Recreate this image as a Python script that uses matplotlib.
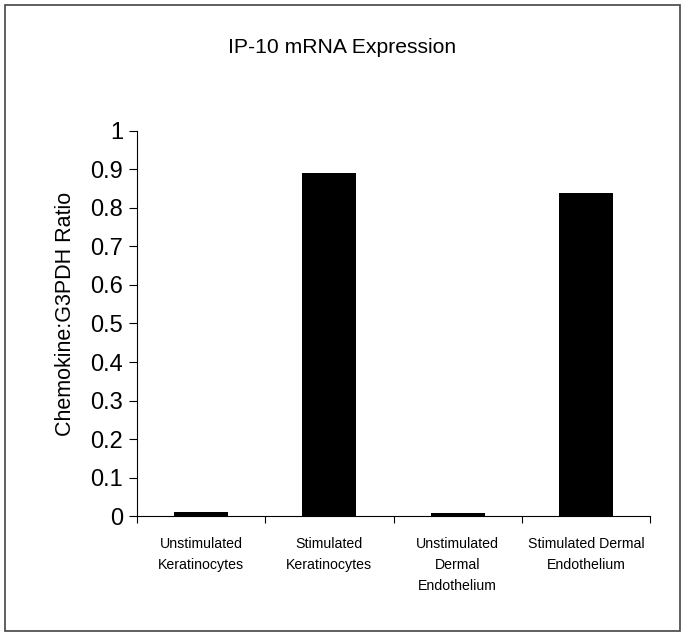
import matplotlib
matplotlib.use("Agg")
import matplotlib.pyplot as plt
from matplotlib.patches import Rectangle

plt.rcParams['font.family'] = ['Liberation Sans', 'DejaVu Sans']

categories = ["Unstimulated\nKeratinocytes", "Stimulated\nKeratinocytes",
              "Unstimulated\nDermal\nEndothelium", "Stimulated Dermal\nEndothelium"]
ratios = [0.010, 0.890, 0.008, 0.840]
y_ticks = [0, 0.1, 0.2, 0.3, 0.4, 0.5, 0.6, 0.7, 0.8, 0.9, 1]
y_tick_labels = ["0", "0.1", "0.2", "0.3", "0.4", "0.5", "0.6", "0.7", "0.8", "0.9", "1"]

fig = plt.figure(figsize=(6.85, 6.38), dpi=100)
ax = fig.add_axes([0.2, 0.1912, 0.749, 0.6035])

x = list(range(len(categories)))
ax.bar(x, ratios, width=0.42, color="black")

ax.set_xlim(-0.5, len(categories) - 0.5)
ax.set_ylim(0, 1)
ax.set_yticks(y_ticks)
ax.set_yticklabels(y_tick_labels, fontsize=17)
ax.tick_params(axis='y', direction='out', length=6, width=0.8, pad=4)

# category labels centred under bars, ticks between categories
ax.set_xticks([i - 0.5 for i in range(len(categories) + 1)])
ax.set_xticklabels([])
ax.tick_params(axis='x', direction='out', length=5, width=0.8)
for i, lab in enumerate(categories):
    ax.text(i, -0.055, lab, ha='center', va='top', fontsize=10.2,
            linespacing=1.62, transform=ax.transData)

ax.spines['top'].set_visible(False)
ax.spines['right'].set_visible(False)
ax.spines['left'].set_linewidth(0.8)
ax.spines['bottom'].set_linewidth(0.8)

ax.set_ylabel("Chemokine:G3PDH Ratio", fontsize=15.5)
ax.yaxis.set_label_coords(-0.119, 0.525)
fig.text(0.5, 0.926, "IP-10 mRNA Expression", ha='center', va='center', fontsize=15.2)

# outer frame
fig.patches.append(Rectangle((0.007, 0.011), 0.986, 0.981, transform=fig.transFigure,
                             fill=False, edgecolor='#444444', linewidth=1.2))

fig.savefig("out.png", dpi=100)
